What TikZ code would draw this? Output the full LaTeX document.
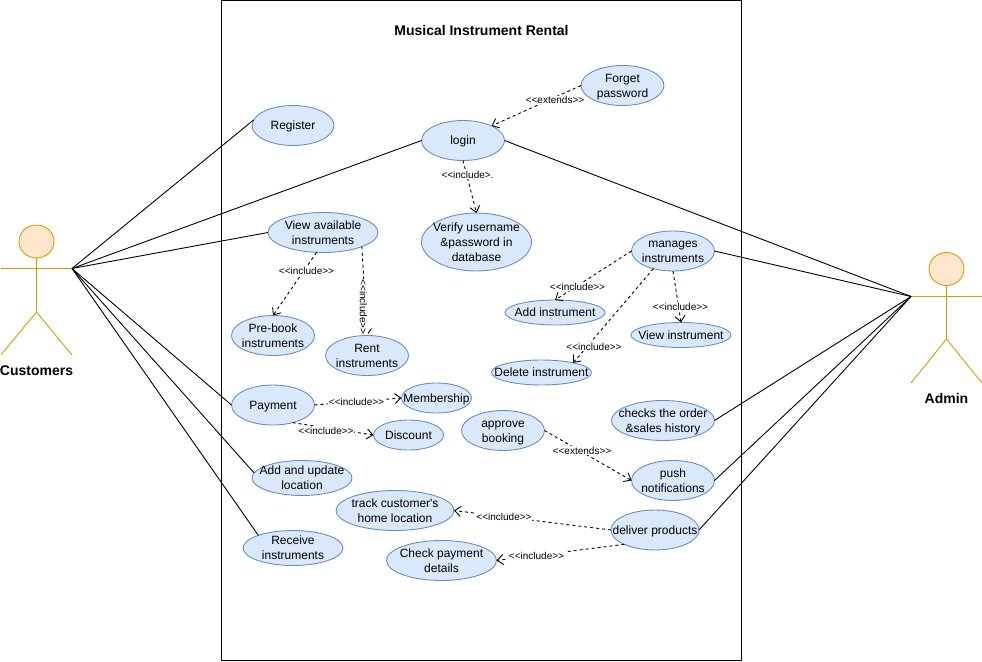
\documentclass[tikz,border=0pt]{standalone}
\usepackage{fontspec}
\setmainfont{Liberation Sans}[Ligatures=TeXOff]
\usetikzlibrary{shapes.geometric}
\usetikzlibrary{arrows.meta}
\definecolor{ucfill}{HTML}{DAE8FC}
\definecolor{ucline}{HTML}{6C8EBF}
\definecolor{actfill}{HTML}{FFE6CC}
\definecolor{actline}{HTML}{D79B00}
\newcommand{\uctext}[1]{\raisebox{-1pt}[\height][\depth]{\begin{tabular}{@{}c@{}}#1\end{tabular}}}
\tikzset{
usecase/.style 2 args={ellipse, draw=ucline, fill=ucfill, line width=0.9pt, inner sep=-30pt, outer sep=0pt,
minimum width=#1, minimum height=#2, font=\fontsize{12}{15}\selectfont},
dep/.style={dashed, dash pattern=on 3pt off 3pt, line width=0.9pt, -{Straight Barb[length=6pt,width=10pt]}},
assoc/.style={line width=0.9pt},
deplbl/.style={fill=white, inner sep=0.5pt, font=\fontsize{10}{12}\selectfont},
limb/.style={draw=actline, line width=0.9pt},
head/.style={ellipse, draw=actline, fill=actfill, line width=0.9pt, inner sep=0pt, outer sep=0pt, minimum width=35pt, minimum height=33pt},
actname/.style={inner sep=0pt, font=\bfseries\fontsize{14}{16}\selectfont}
}
\begin{document}
\begin{tikzpicture}[x=1pt,y=-1pt]
\useasboundingbox (0,0) rectangle (982,661);
\draw[line width=0.9pt] (221.5,0.5) rectangle (741.5,660.5);
\node[actname] (title) at (481.5,30) {Musical Instrument Rental};

\node[head] (custhead) at (36.5,241.5) {};
\coordinate (custhand) at (72,268.5);
\coordinate (custarm) at (1,268.5);
\coordinate (custhip) at (36.5,312);
\draw[limb] (custarm) -- (custhand);
\draw[limb] (custhead.south) -- (custhip);
\draw[limb] (1,355) -- (custhip) -- (72,355);
\node[actname] (customers) at (36.5,370.5) {Customers};

\node[head] (adminhead) at (946.5,269) {};
\coordinate (adminhand) at (911,296.5);
\coordinate (adminarm) at (982,296.5);
\coordinate (adminhip) at (946.5,339);
\draw[limb] (adminhand) -- (adminarm);
\draw[limb] (adminhead.south) -- (adminhip);
\draw[limb] (911,383) -- (adminhip) -- (982,383);
\node[actname] (admin) at (946.5,398) {Admin};

\node[usecase={82pt}{40pt}] (register) at (293,125.5) {\uctext{Register}};
\node[usecase={83pt}{40pt}] (login) at (463,140.5) {\uctext{login}};
\node[usecase={83pt}{40pt}] (forget) at (622.5,85.5) {\uctext{Forget\\password}};
\node[usecase={110pt}{40pt}] (view) at (323,232.5) {\uctext{View available\\instruments}};
\node[usecase={110pt}{58pt}] (verify) at (476.5,242) {\uctext{Verify username\\\&password in\\database}};
\node[usecase={83pt}{40pt}] (manages) at (673,251) {\uctext{manages\\instruments}};
\node[usecase={100pt}{25pt}] (addins) at (555,312.5) {\uctext{Add instrument}};
\node[usecase={100pt}{25pt}] (viewins) at (681,335) {\uctext{View instrument}};
\node[usecase={100pt}{25pt}] (delins) at (541.5,372.5) {\uctext{Delete instrument}};
\node[usecase={83pt}{40pt}] (prebook) at (273,335.5) {\uctext{Pre-book\\instruments}};
\node[usecase={83pt}{40pt}] (rent) at (367,355.5) {\uctext{Rent\\instruments}};
\node[usecase={83pt}{40pt}] (payment) at (273,405) {\uctext{Payment}};
\node[usecase={70pt}{30pt}] (member) at (436.5,398) {\uctext{Membership}};
\node[usecase={70pt}{30pt}] (discount) at (408.5,435) {\uctext{Discount}};
\node[usecase={83pt}{40pt}] (approve) at (503,430.5) {\uctext{approve\\booking}};
\node[usecase={103pt}{40pt}] (checks) at (663,420.5) {\uctext{checks the order\\\&sales history}};
\node[usecase={83pt}{40pt}] (push) at (673,480.5) {\uctext{push\\notifications}};
\node[usecase={100pt}{35pt}] (location) at (302,478) {\uctext{Add and update\\location}};
\node[usecase={118pt}{40pt}] (track) at (395,510.5) {\uctext{track customer's\\home location}};
\node[usecase={88pt}{40pt}] (deliver) at (655,530) {\uctext{deliver products}};
\node[usecase={110pt}{40pt}] (payinfo) at (441.5,560.5) {\uctext{Check payment\\details}};
\node[usecase={100pt}{35pt}] (receive) at (293,548) {\uctext{Receive\\instruments}};

\draw[assoc] (custhand) -- (register.172);
\draw[assoc] (custhand) -- (login.west);
\draw[assoc] (custhand) -- (view.west);
\draw[assoc] (custhand) -- (payment.west);
\draw[assoc] (custhand) -- (location.174);
\draw[assoc] (custhand) -- (receive.160);
\draw[assoc] (login.east) -- (adminhand);
\draw[assoc] (manages.east) -- (adminhand);
\draw[assoc] (checks.east) -- (adminhand);
\draw[assoc] (push.east) -- (adminhand);
\draw[assoc] (deliver.east) -- (adminhand);

\draw[dep] (forget.west) -- (login.27);
\draw[dep] (login.south) -- (verify.north);
\draw[dep] (view.-108) -- (prebook.north);
\draw[dep] (view.-20) -- (rent.north);
\draw[dep] (manages.west) -- (addins.north);
\draw[dep] (manages.-138) -- (delins.17);
\draw[dep] (manages.south) -- (viewins.north);
\draw[dep] (payment.east) -- (member.west);
\draw[dep] (payment.-42) -- (discount.west);
\draw[dep] (approve.east) -- (push.west);
\draw[dep] (deliver.west) -- (track.east);
\draw[dep] (deliver.-155) -- (payinfo.east);

\node[deplbl] (lblforget) at (555,100) {<<extends>>};
\node[deplbl] (lbllogin) at (467.5,175) {<<include>.};
\node[deplbl] (lblprebook) at (306.5,270.5) {<<include>>};
\node[deplbl,rotate=-90] (lblrent) at (363.5,307) {<<include>>};
\node[deplbl] (lbladd) at (577.5,286.5) {<<include>>};
\node[deplbl] (lbldel) at (594,346.5) {<<include>>};
\node[deplbl] (lblview) at (680.5,306.5) {<<include>>};
\node[deplbl] (lblmember) at (356.5,401.5) {<<include>>};
\node[deplbl] (lbldiscount) at (326,430.5) {<<include>>};
\node[deplbl] (lblpush) at (582,450.5) {<<extends>>};
\node[deplbl] (lbltrack) at (504,516.5) {<<include>>};
\node[deplbl] (lblpay) at (536.5,555.5) {<<include>>};
\end{tikzpicture}
\end{document}
